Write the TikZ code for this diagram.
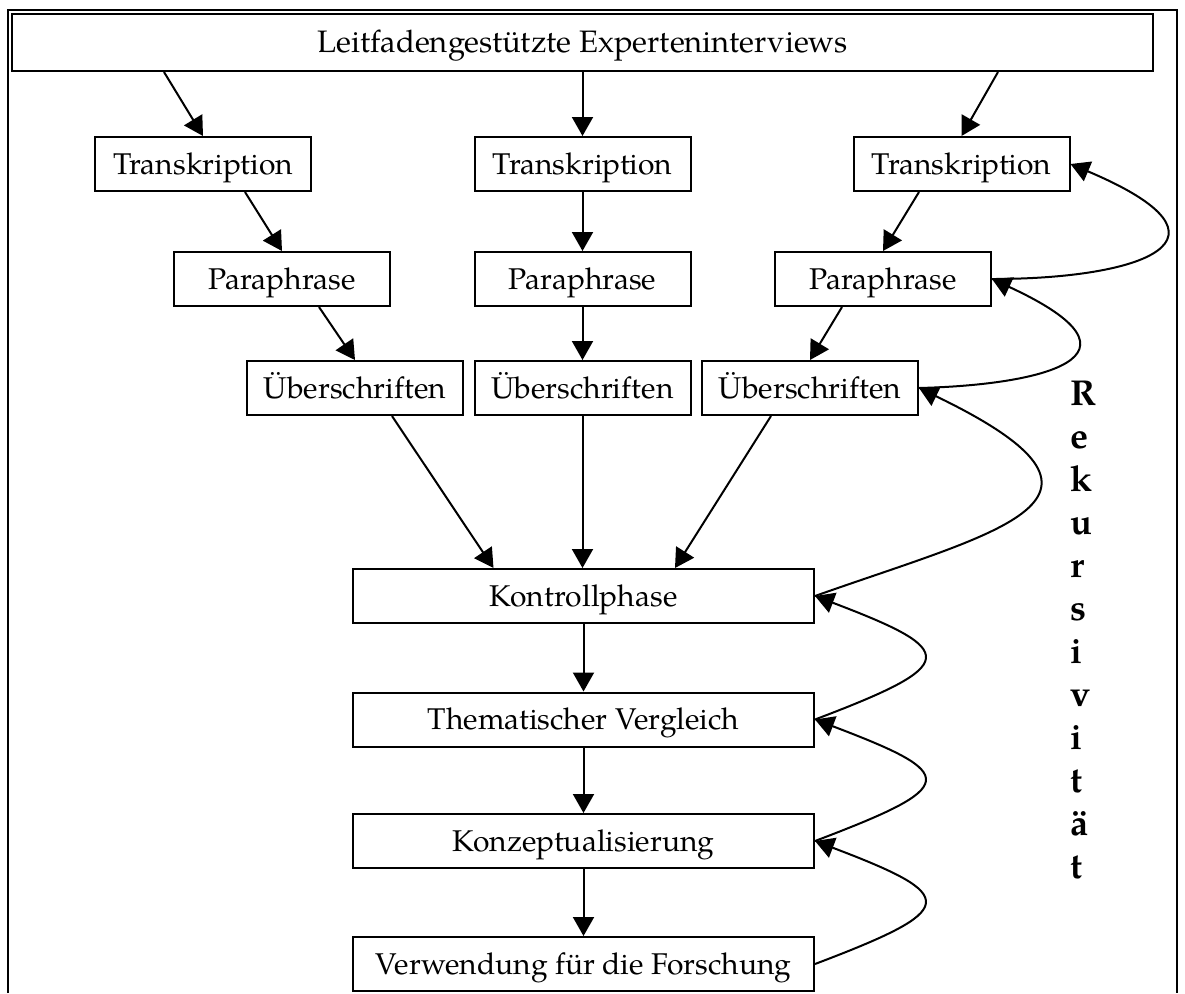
\documentclass[tikz,border=0pt]{standalone}
\usepackage{fontspec}
\setmainfont{TeX Gyre Pagella}
\usetikzlibrary{arrows.meta,calc}
\begin{document}
\begin{tikzpicture}[x=0.5pt,y=-0.5pt,
  box/.style={draw, line width=1pt, minimum width=108pt, minimum height=27pt, inner sep=0pt, text height=11pt, text depth=1pt, font=\fontsize{15}{18}\selectfont},
  wide/.style={box, minimum width=230.5pt},
  arr/.style={-{Triangle[length=9.5pt,width=10.5pt]}, line width=1pt},
  rek/.style={anchor=base west, inner sep=0pt, font=\fontsize{18}{21}\selectfont\bfseries}]
\useasboundingbox (0,0) rectangle (1185,993);
\draw[line width=1pt] (8,993) -- (8,10) -- (1177,10) -- (1177,993);

\node[box, minimum width=570.5pt, minimum height=28.5pt, font=\fontsize{15.5}{18}\selectfont] (top) at (582.5,42.5) {Leitfadengestützte Experteninterviews};

\node[box] (tl) at (203,164) {Transkription};
\node[box] (tm) at (582.5,164) {Transkription};
\node[box] (tr) at (961.5,164) {Transkription};

\node[box] (pl) at (282,279) {Paraphrase};
\node[box] (pm) at (582.5,279) {Paraphrase};
\node[box] (pr) at (883,279) {Paraphrase};

\node[box] (ul) at (355,388) {Überschriften};
\node[box] (um) at (582.5,388) {Überschriften};
\node[box] (ur) at (810,388) {Überschriften};

\node[wide] (k)  at (583.5,596) {Kontrollphase};
\node[wide] (th) at (583.5,719.5) {Thematischer Vergleich};
\node[wide] (kz) at (583.5,841) {Konzeptualisierung};
\node[wide] (v)  at (583.5,964) {Verwendung für die Forschung};

\foreach \l [count=\i] in {R,e,k,u,r,s,i,v,i,t,ä,t}
  \node[rek] (rk\i) at (1070,{405+43*(\i-1)}) {\l};

% straight connectors
\draw[arr] ($(top.south)+(-418.5,0)$) -- (tl.north);
\draw[arr] (top.south) -- (tm.north);
\draw[arr] ($(top.south)+(415.5,0)$) -- (tr.north);

\draw[arr] ($(tl.south)+(42,0)$) -- (pl.north);
\draw[arr] (tm.south) -- (pm.north);
\draw[arr] ($(tr.south)+(-42.5,0)$) -- (pr.north);

\draw[arr] ($(pl.south)+(37,0)$) -- (ul.north);
\draw[arr] (pm.south) -- (um.north);
\draw[arr] ($(pr.south)+(-41,0)$) -- (ur.north);

\draw[arr] ($(ul.south)+(37,0)$) -- ($(k.north)+(-90,0)$);
\draw[arr] (um.south) -- (um.south |- k.north);
\draw[arr] ($(ur.south)+(-39,0)$) -- ($(k.north)+(91.5,0)$);

\draw[arr] (k.south) -- (th.north);
\draw[arr] (th.south) -- (kz.north);
\draw[arr] (kz.south) -- (v.north);

% recursion curves
\draw[arr] (pr.east) .. controls +(150,0) and +(180,76) .. (tr.east);
\draw[arr] (ur.east) .. controls +(122,-3) and +(169,78) .. (pr.east);
\draw[arr] (k.east) .. controls +(186,-66) and +(232,112) .. (ur.east);
\draw[arr] (th.east) .. controls +(145,-55) and +(145,55) .. (k.east);
\draw[arr] (kz.east) .. controls +(145,-55) and +(145,55) .. (th.east);
\draw[arr] (v.east) .. controls +(145,-55) and +(145,55) .. (kz.east);
\end{tikzpicture}
\end{document}
